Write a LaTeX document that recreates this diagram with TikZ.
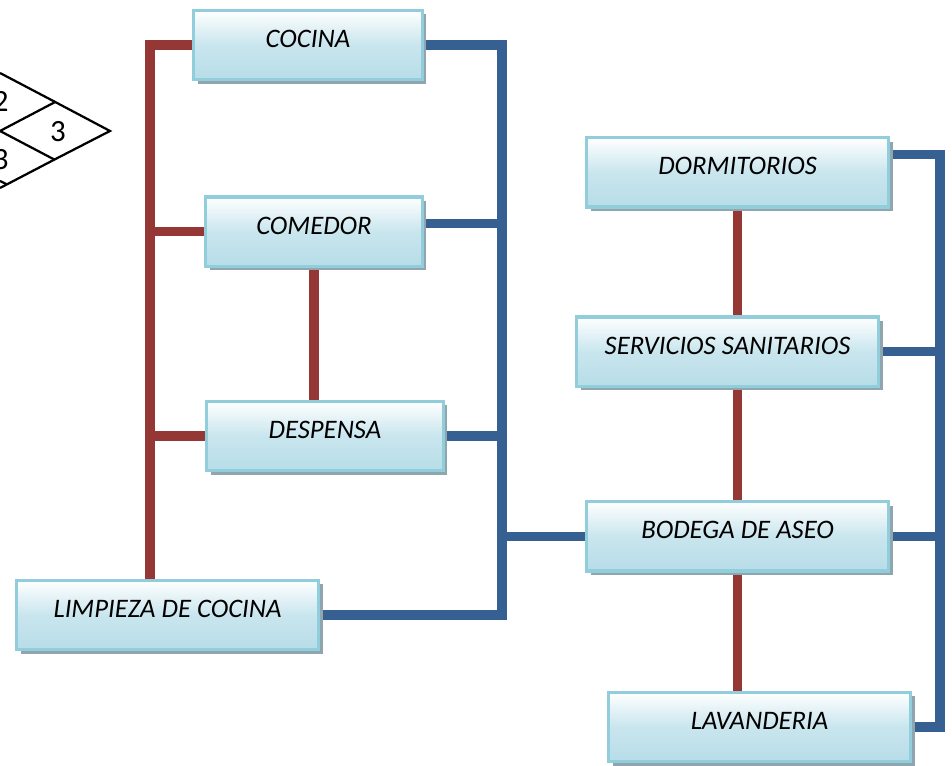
\documentclass[tikz,border=0pt]{standalone}
\usepackage{fontspec}
\setmainfont{Carlito}
\usetikzlibrary{positioning,shadows,backgrounds}

\definecolor{cajaazul}{RGB}{183,221,232}
\definecolor{cajaborde}{RGB}{146,205,220}
\definecolor{sombra}{RGB}{143,166,174}
\definecolor{linrojo}{RGB}{149,55,53}
\definecolor{linazul}{RGB}{55,96,146}

\begin{document}
\begin{tikzpicture}[
  every node/.style={font=\itshape\fontsize{19}{23}\selectfont},
  caja/.style={draw=cajaborde,line width=2.2pt,top color=white,bottom color=cajaazul,middle color=cajaazul!75!white,minimum height=1.73cm,text height=0.56cm,text depth=0.43cm,drop shadow={shadow xshift=0.1cm,shadow yshift=-0.1cm,fill=sombra,opacity=1}},
  rojo/.style={draw=linrojo,line width=0.24cm},
  azul/.style={draw=linazul,line width=0.24cm},
  rombo/.style={draw=black,line width=1.6pt},
  num/.style={font=\upshape\fontsize{22}{26}\selectfont}]
\useasboundingbox (0,0) rectangle (23.8,19.15);
\node[caja,minimum width=5.72cm] (cocina) at (7.7,18.025) {COCINA};
\node[caja,minimum width=5.42cm] (comedor) at (7.85,13.36) {COMEDOR};
\node[caja,minimum width=5.92cm] (despensa) at (8.125,8.25) {DESPENSA};
\node[caja,minimum width=7.55cm] (limpieza) at (4.19,3.775) {LIMPIEZA DE COCINA};
\node[caja,minimum width=7.55cm] (dormitorios) at (18.44,14.84) {DORMITORIOS};
\node[caja,minimum width=7.55cm] (servicios) at (18.19,10.36) {SERVICIOS SANITARIOS};
\node[caja,minimum width=7.55cm] (bodega) at (18.44,5.74) {BODEGA DE ASEO};
\node[caja,minimum width=7.55cm] (lavanderia) at (18.99,0.975) {LAVANDERIA};
% matriz de relaciones (recortada)
\begin{scope}
\clip (0,0) rectangle (23.8,19.15);
\coordinate (t) at (2.75,15.875);
\coordinate (p) at (1.38,16.6);
\coordinate (l) at (0,15.875);
\coordinate (b) at (1.36,15.16);
\draw[rombo] (0,17.325) -- (p) -- (t) -- (b) -- (0,14.45);
\draw[rombo] (p) -- (l) -- (b);
\draw[rombo] (0,14.625) -- (0.17,14.54);
\node[num] (n2) at (0.02,16.62) {2};
\node[num] (n3) at (1.45,15.85) {3};
\node[num] (n3b) at (0.02,15.15) {3};
\end{scope}
\begin{scope}[on background layer]
\coordinate (rl) at (3.75,18.0);
\coordinate (al) at (12.55,18.0);
\coordinate (ad) at (23.5,15.0);
% zona cocina
\draw[rojo] (cocina.west) -- (cocina.west -| rl) -- (limpieza.north -| rl);
\draw[rojo] (comedor.west) -- (comedor.west -| rl);
\draw[rojo] (despensa.west) -- (despensa.west -| rl);
\draw[rojo] (comedor.south) -- (comedor.south |- despensa.north);
\draw[azul] (cocina.east) -- (cocina.east -| al) -- (limpieza.east -| al) -- (limpieza.east);
\draw[azul] ([yshift=0.2cm]comedor.east) -- ([yshift=0.2cm]comedor.east -| al);
\draw[azul] (despensa.east) -- (despensa.east -| al);
\draw[azul] (bodega.west) -- (bodega.west -| al);
% zona servicios
\draw[rojo] (dormitorios.south) -- (dormitorios.south |- servicios.north);
\draw[rojo] (dormitorios.south |- servicios.south) -- (dormitorios.south |- bodega.north);
\draw[rojo] (bodega.south) -- (bodega.south |- lavanderia.north);
\draw[azul] ([yshift=0.45cm]dormitorios.east) -- ([yshift=0.45cm]dormitorios.east -| ad) -- (lavanderia.east -| ad) -- (lavanderia.east);
\draw[azul] (servicios.east) -- (servicios.east -| ad);
\draw[azul] (bodega.east) -- (bodega.east -| ad);
\end{scope}
\end{tikzpicture}
\end{document}
